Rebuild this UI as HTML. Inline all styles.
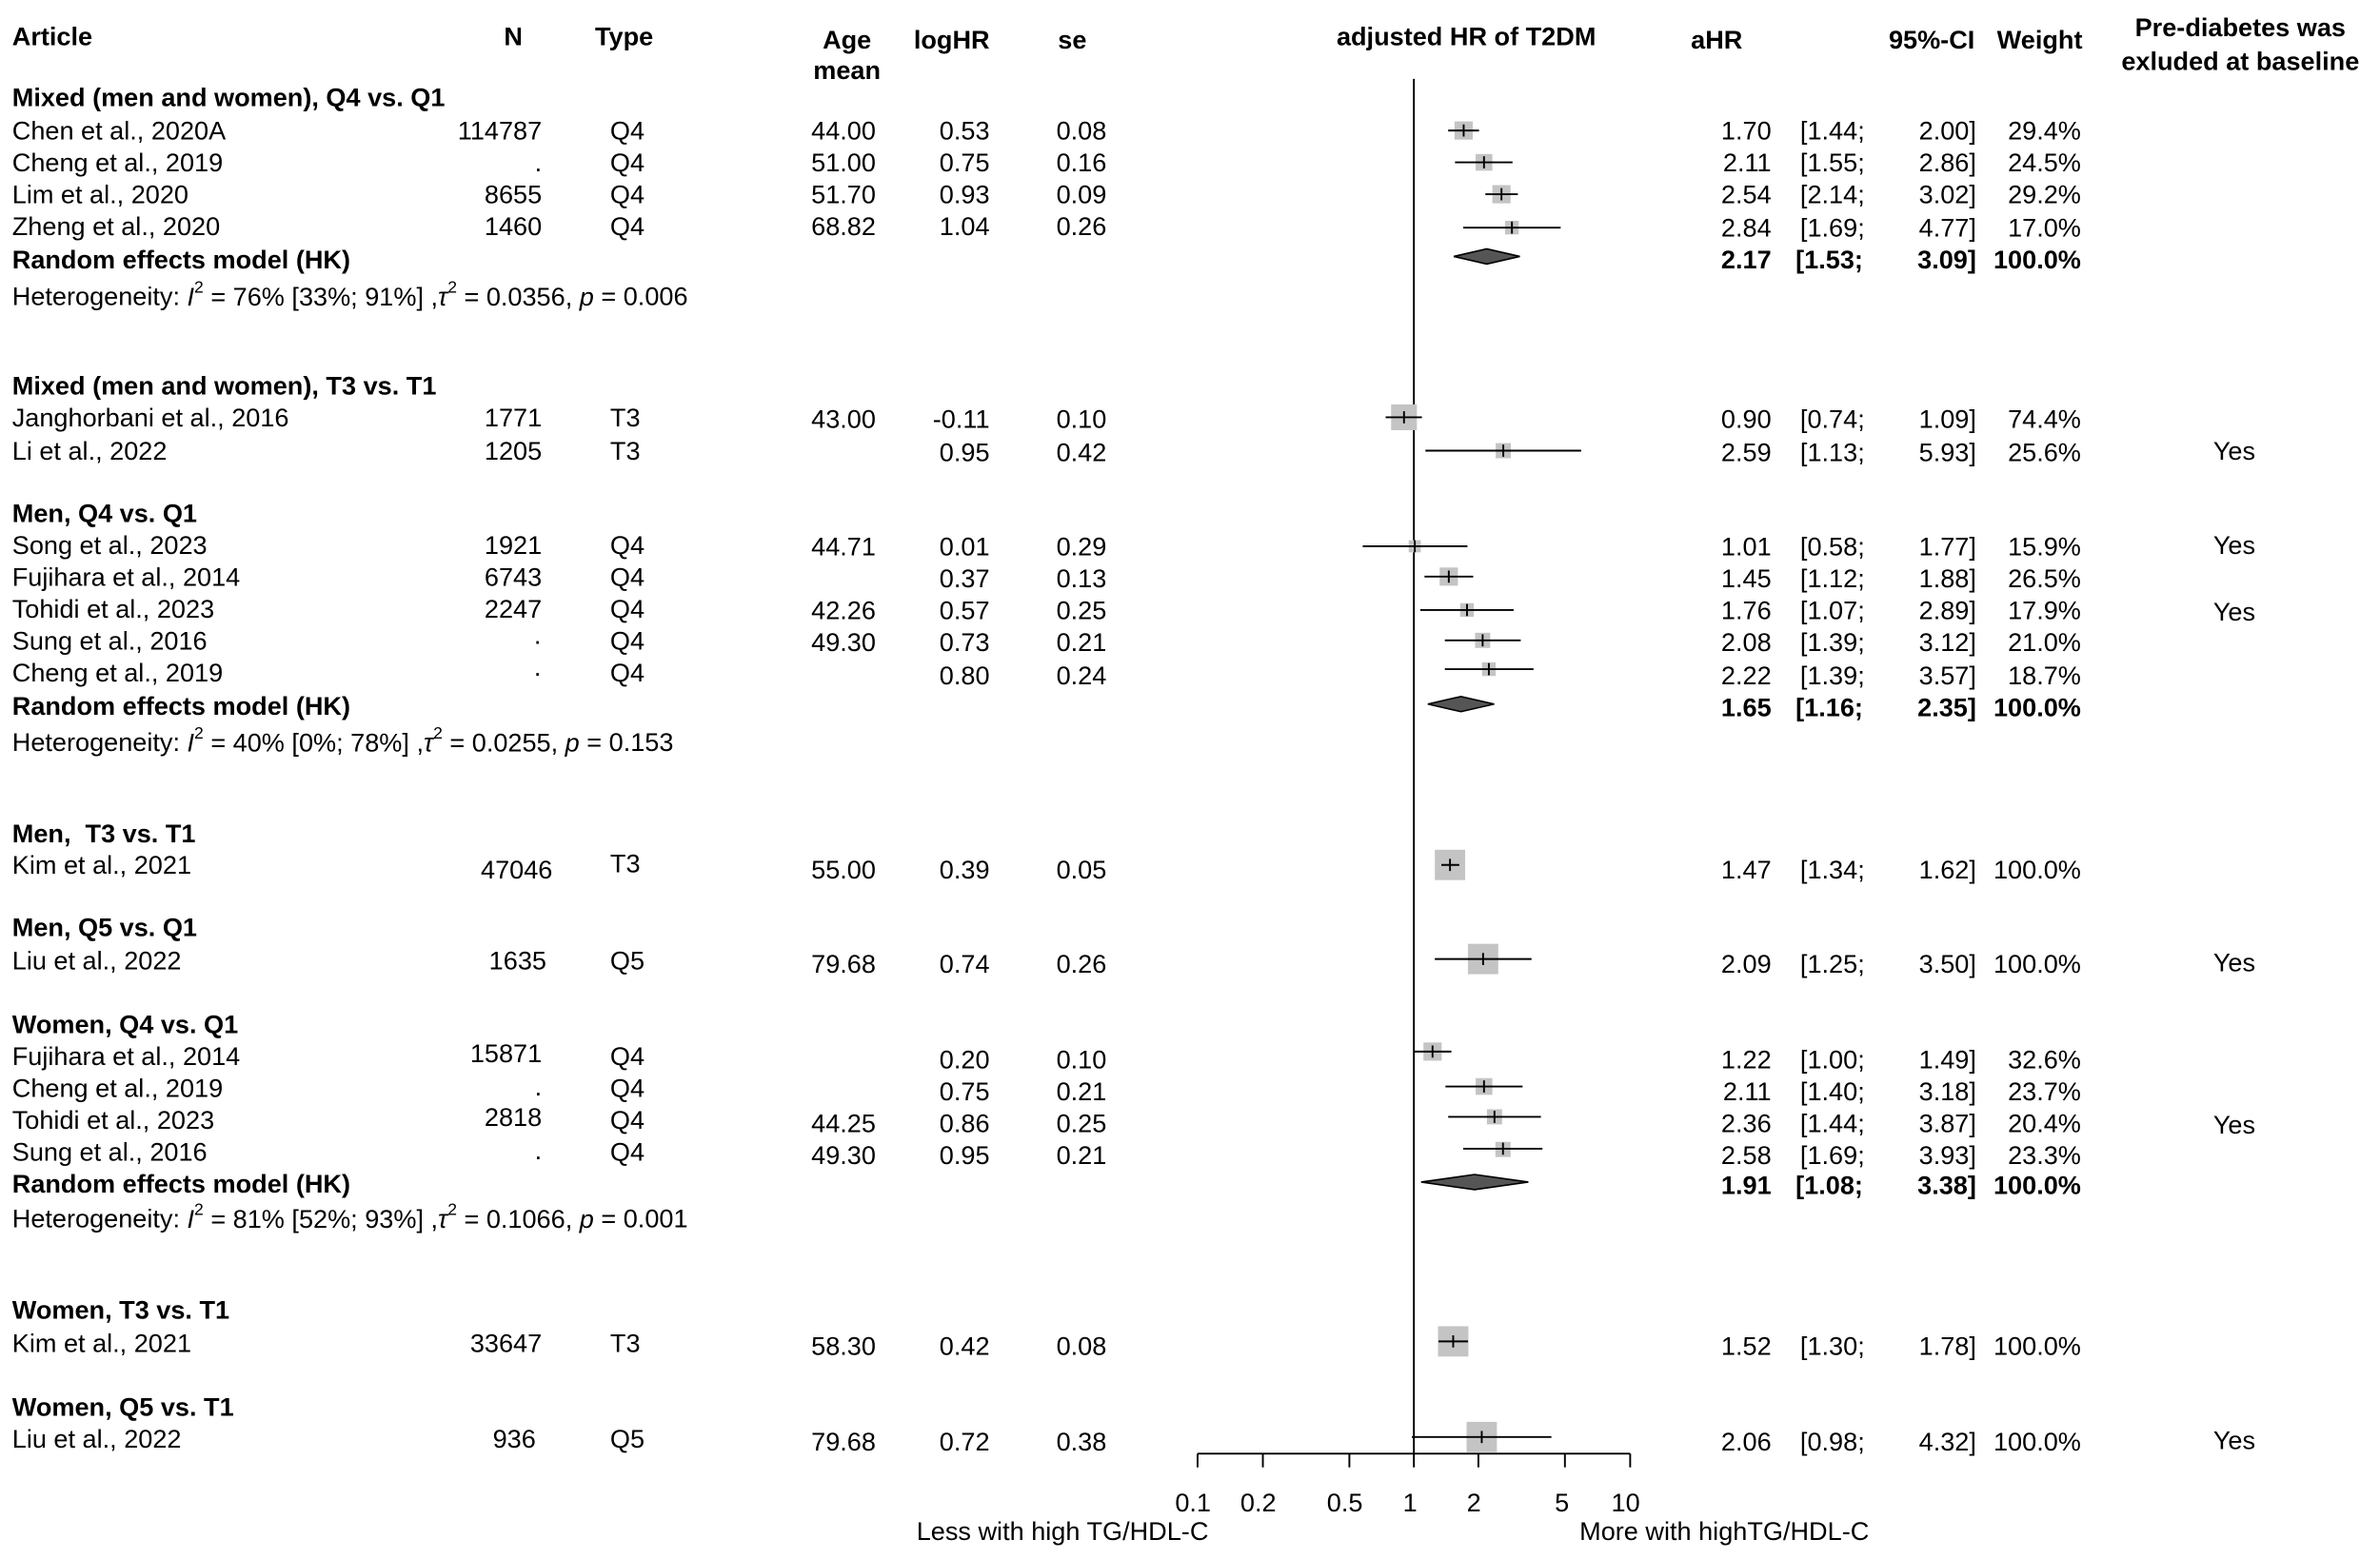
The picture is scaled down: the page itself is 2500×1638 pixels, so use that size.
<!DOCTYPE html>
<html><head><meta charset="utf-8"><style>
html,body{margin:0;padding:0;background:#fff}
svg{display:block}
text{font-family:"Liberation Sans",Arial,sans-serif;font-size:17px;fill:#000}
.b{font-weight:bold}
.r{text-anchor:end}
.m{text-anchor:middle}
</style></head><body>
<svg width="2500" height="1638" viewBox="0 0 1568 1027.4" preserveAspectRatio="none" xmlns="http://www.w3.org/2000/svg">
<g dominant-baseline="central">
<text class="b" x="8" y="24">Article</text>
<text class="b" x="332" y="24">N</text>
<text class="b" x="392" y="24">Type</text>
<text class="b m" x="558" y="26">Age</text>
<text class="b m" x="558" y="46">mean</text>
<text class="b" x="602" y="26">logHR</text>
<text class="b" x="697" y="26">se</text>
<text class="b m" x="966" y="24">adjusted HR of T2DM</text>
<text class="b" x="1114" y="26">aHR</text>
<text class="b r" x="1301" y="26">95%-CI</text>
<text class="b r" x="1372" y="26">Weight</text>
<text class="b m" x="1476" y="18">Pre-diabetes was</text>
<text class="b m" x="1476" y="40">exluded at baseline</text>

<text class="b" x="8" y="64">Mixed (men and women), Q4 vs. Q1</text>
<text x="8" y="86">Chen et al., 2020A</text><text class="r" x="357" y="86">114787</text><text x="402" y="86">Q4</text><text class="r" x="577" y="86">44.00</text><text class="r" x="652" y="86">0.53</text><text class="r" x="729" y="86">0.08</text>
<text x="8" y="107">Cheng et al., 2019</text><text class="r" x="357" y="107">.</text><text x="402" y="107">Q4</text><text class="r" x="577" y="107">51.00</text><text class="r" x="652" y="107">0.75</text><text class="r" x="729" y="107">0.16</text>
<text x="8" y="128">Lim et al., 2020</text><text class="r" x="357" y="128">8655</text><text x="402" y="128">Q4</text><text class="r" x="577" y="128">51.70</text><text class="r" x="652" y="128">0.93</text><text class="r" x="729" y="128">0.09</text>
<text x="8" y="149">Zheng et al., 2020</text><text class="r" x="357" y="149">1460</text><text x="402" y="149">Q4</text><text class="r" x="577" y="149">68.82</text><text class="r" x="652" y="149">1.04</text><text class="r" x="729" y="149">0.26</text>
<text class="b" x="8" y="171">Random effects model (HK)</text>
<text x="8" y="195">Heterogeneity: <tspan font-style="italic">I</tspan><tspan dy="-6" font-size="11">2</tspan><tspan dy="6"> = 76% [33%; 91%] ,</tspan><tspan font-style="italic">τ</tspan><tspan dy="-6" font-size="11">2</tspan><tspan dy="6"> = 0.0356, </tspan><tspan font-style="italic">p</tspan> = 0.006</text>

<text class="b" x="8" y="254">Mixed (men and women), T3 vs. T1</text>
<text x="8" y="275">Janghorbani et al., 2016</text><text class="r" x="357" y="275">1771</text><text x="402" y="275">T3</text><text class="r" x="577" y="276">43.00</text><text class="r" x="652" y="276">-0.11</text><text class="r" x="729" y="276">0.10</text>
<text x="8" y="297">Li et al., 2022</text><text class="r" x="357" y="297">1205</text><text x="402" y="297">T3</text><text class="r" x="652" y="298">0.95</text><text class="r" x="729" y="298">0.42</text>

<text class="b" x="8" y="338">Men, Q4 vs. Q1</text>
<text x="8" y="359">Song et al., 2023</text><text class="r" x="357" y="359">1921</text><text x="402" y="359">Q4</text><text class="r" x="577" y="360">44.71</text><text class="r" x="652" y="360">0.01</text><text class="r" x="729" y="360">0.29</text>
<text x="8" y="380">Fujihara et al., 2014</text><text class="r" x="357" y="380">6743</text><text x="402" y="380">Q4</text><text class="r" x="652" y="381">0.37</text><text class="r" x="729" y="381">0.13</text>
<text x="8" y="401">Tohidi et al., 2023</text><text class="r" x="357" y="401">2247</text><text x="402" y="401">Q4</text><text class="r" x="577" y="402">42.26</text><text class="r" x="652" y="402">0.57</text><text class="r" x="729" y="402">0.25</text>
<text x="8" y="422">Sung et al., 2016</text><text class="r" x="357" y="422">·</text><text x="402" y="422">Q4</text><text class="r" x="577" y="423">49.30</text><text class="r" x="652" y="423">0.73</text><text class="r" x="729" y="423">0.21</text>
<text x="8" y="443">Cheng et al., 2019</text><text class="r" x="357" y="443">·</text><text x="402" y="443">Q4</text><text class="r" x="652" y="445">0.80</text><text class="r" x="729" y="445">0.24</text>
<text class="b" x="8" y="465">Random effects model (HK)</text>
<text x="8" y="489">Heterogeneity: <tspan font-style="italic">I</tspan><tspan dy="-6" font-size="11">2</tspan><tspan dy="6"> = 40% [0%; 78%] ,</tspan><tspan font-style="italic">τ</tspan><tspan dy="-6" font-size="11">2</tspan><tspan dy="6"> = 0.0255, </tspan><tspan font-style="italic">p</tspan> = 0.153</text>

<text class="b" x="8" y="549">Men,&#160; T3 vs. T1</text>
<text x="8" y="570">Kim et al., 2021</text><text class="r" x="364" y="573">47046</text><text x="402" y="569">T3</text><text class="r" x="577" y="573">55.00</text><text class="r" x="652" y="573">0.39</text><text class="r" x="729" y="573">0.05</text>

<text class="b" x="8" y="611">Men, Q5 vs. Q1</text>
<text x="8" y="633">Liu et al., 2022</text><text class="r" x="360" y="633">1635</text><text x="402" y="633">Q5</text><text class="r" x="577" y="635">79.68</text><text class="r" x="652" y="635">0.74</text><text class="r" x="729" y="635">0.26</text>

<text class="b" x="8" y="675">Women, Q4 vs. Q1</text>
<text x="8" y="696">Fujihara et al., 2014</text><text class="r" x="357" y="694">15871</text><text x="402" y="696">Q4</text><text class="r" x="652" y="698">0.20</text><text class="r" x="729" y="698">0.10</text>
<text x="8" y="717">Cheng et al., 2019</text><text class="r" x="357" y="716">.</text><text x="402" y="717">Q4</text><text class="r" x="652" y="719">0.75</text><text class="r" x="729" y="719">0.21</text>
<text x="8" y="738">Tohidi et al., 2023</text><text class="r" x="357" y="736">2818</text><text x="402" y="738">Q4</text><text class="r" x="577" y="740">44.25</text><text class="r" x="652" y="740">0.86</text><text class="r" x="729" y="740">0.25</text>
<text x="8" y="759">Sung et al., 2016</text><text class="r" x="357" y="758">.</text><text x="402" y="759">Q4</text><text class="r" x="577" y="761">49.30</text><text class="r" x="652" y="761">0.95</text><text class="r" x="729" y="761">0.21</text>
<text class="b" x="8" y="780">Random effects model (HK)</text>
<text x="8" y="803">Heterogeneity: <tspan font-style="italic">I</tspan><tspan dy="-6" font-size="11">2</tspan><tspan dy="6"> = 81% [52%; 93%] ,</tspan><tspan font-style="italic">τ</tspan><tspan dy="-6" font-size="11">2</tspan><tspan dy="6"> = 0.1066, </tspan><tspan font-style="italic">p</tspan> = 0.001</text>

<text class="b" x="8" y="863">Women, T3 vs. T1</text>
<text x="8" y="885">Kim et al., 2021</text><text class="r" x="357" y="885">33647</text><text x="402" y="885">T3</text><text class="r" x="577" y="887">58.30</text><text class="r" x="652" y="887">0.42</text><text class="r" x="729" y="887">0.08</text>

<text class="b" x="8" y="927">Women, Q5 vs. T1</text>
<text x="8" y="948">Liu et al., 2022</text><text class="r" x="353" y="948">936</text><text x="402" y="948">Q5</text><text class="r" x="577" y="950">79.68</text><text class="r" x="652" y="950">0.72</text><text class="r" x="729" y="950">0.38</text>

<g>
<text class="r" x="1167" y="86">1.70</text><text x="1186" y="86">[1.44;</text><text class="r" x="1302" y="86">2.00]</text><text class="r" x="1371" y="86">29.4%</text>
<text class="r" x="1167" y="107">2.11</text><text x="1186" y="107">[1.55;</text><text class="r" x="1302" y="107">2.86]</text><text class="r" x="1371" y="107">24.5%</text>
<text class="r" x="1167" y="128">2.54</text><text x="1186" y="128">[2.14;</text><text class="r" x="1302" y="128">3.02]</text><text class="r" x="1371" y="128">29.2%</text>
<text class="r" x="1167" y="150">2.84</text><text x="1186" y="150">[1.69;</text><text class="r" x="1302" y="150">4.77]</text><text class="r" x="1371" y="150">17.0%</text>
<text class="b r" x="1167" y="171">2.17</text><text class="b" x="1183" y="171">[1.53;</text><text class="b r" x="1302" y="171">3.09]</text><text class="b r" x="1371" y="171">100.0%</text>
<text class="r" x="1167" y="276">0.90</text><text x="1186" y="276">[0.74;</text><text class="r" x="1302" y="276">1.09]</text><text class="r" x="1371" y="276">74.4%</text>
<text class="r" x="1167" y="298">2.59</text><text x="1186" y="298">[1.13;</text><text class="r" x="1302" y="298">5.93]</text><text class="r" x="1371" y="298">25.6%</text><text class="m" x="1472" y="297">Yes</text>
<text class="r" x="1167" y="360">1.01</text><text x="1186" y="360">[0.58;</text><text class="r" x="1302" y="360">1.77]</text><text class="r" x="1371" y="360">15.9%</text><text class="m" x="1472" y="359">Yes</text>
<text class="r" x="1167" y="381">1.45</text><text x="1186" y="381">[1.12;</text><text class="r" x="1302" y="381">1.88]</text><text class="r" x="1371" y="381">26.5%</text>
<text class="r" x="1167" y="402">1.76</text><text x="1186" y="402">[1.07;</text><text class="r" x="1302" y="402">2.89]</text><text class="r" x="1371" y="402">17.9%</text><text class="m" x="1472" y="403">Yes</text>
<text class="r" x="1167" y="423">2.08</text><text x="1186" y="423">[1.39;</text><text class="r" x="1302" y="423">3.12]</text><text class="r" x="1371" y="423">21.0%</text>
<text class="r" x="1167" y="445">2.22</text><text x="1186" y="445">[1.39;</text><text class="r" x="1302" y="445">3.57]</text><text class="r" x="1371" y="445">18.7%</text>
<text class="b r" x="1167" y="466">1.65</text><text class="b" x="1183" y="466">[1.16;</text><text class="b r" x="1302" y="466">2.35]</text><text class="b r" x="1371" y="466">100.0%</text>
<text class="r" x="1167" y="573">1.47</text><text x="1186" y="573">[1.34;</text><text class="r" x="1302" y="573">1.62]</text><text class="r" x="1371" y="573">100.0%</text>
<text class="r" x="1167" y="635">2.09</text><text x="1186" y="635">[1.25;</text><text class="r" x="1302" y="635">3.50]</text><text class="r" x="1371" y="635">100.0%</text><text class="m" x="1472" y="634">Yes</text>
<text class="r" x="1167" y="698">1.22</text><text x="1186" y="698">[1.00;</text><text class="r" x="1302" y="698">1.49]</text><text class="r" x="1371" y="698">32.6%</text>
<text class="r" x="1167" y="719">2.11</text><text x="1186" y="719">[1.40;</text><text class="r" x="1302" y="719">3.18]</text><text class="r" x="1371" y="719">23.7%</text>
<text class="r" x="1167" y="740">2.36</text><text x="1186" y="740">[1.44;</text><text class="r" x="1302" y="740">3.87]</text><text class="r" x="1371" y="740">20.4%</text><text class="m" x="1472" y="741">Yes</text>
<text class="r" x="1167" y="761">2.58</text><text x="1186" y="761">[1.69;</text><text class="r" x="1302" y="761">3.93]</text><text class="r" x="1371" y="761">23.3%</text>
<text class="b r" x="1167" y="781">1.91</text><text class="b" x="1183" y="781">[1.08;</text><text class="b r" x="1302" y="781">3.38]</text><text class="b r" x="1371" y="781">100.0%</text>
<text class="r" x="1167" y="887">1.52</text><text x="1186" y="887">[1.30;</text><text class="r" x="1302" y="887">1.78]</text><text class="r" x="1371" y="887">100.0%</text>
<text class="r" x="1167" y="950">2.06</text><text x="1186" y="950">[0.98;</text><text class="r" x="1302" y="950">4.32]</text><text class="r" x="1371" y="950">100.0%</text><text class="m" x="1472" y="949">Yes</text>
</g>

<text class="m" x="786" y="990">0.1</text><text class="m" x="829" y="990">0.2</text><text class="m" x="886" y="990">0.5</text><text class="m" x="929" y="990">1</text><text class="m" x="971" y="990">2</text><text class="m" x="1029" y="990">5</text><text class="m" x="1071" y="990">10</text>
<text class="m" x="700" y="1009">Less with high TG/HDL-C</text>
<text class="m" x="1136" y="1009">More with highTG/HDL-C</text>
</g>

<g stroke="#000" stroke-width="1.2" fill="none">
<line x1="931.5" y1="52" x2="931.5" y2="958"/>
<line x1="789" y1="958" x2="1074" y2="958"/>
<line x1="789" y1="958" x2="789" y2="967"/><line x1="832" y1="958" x2="832" y2="967"/><line x1="889" y1="958" x2="889" y2="967"/><line x1="931.5" y1="958" x2="931.5" y2="967"/><line x1="974" y1="958" x2="974" y2="967"/><line x1="1031" y1="958" x2="1031" y2="967"/><line x1="1074" y1="958" x2="1074" y2="967"/>
</g>
<g fill="#c4c4c4">
<rect x="958.3" y="80" width="12" height="12"/>
<rect x="972.2" y="101.5" width="11" height="11"/>
<rect x="983.2" y="122" width="12" height="12"/>
<rect x="991.6" y="145.5" width="9" height="9"/>
<rect x="916.5" y="266.5" width="17" height="17"/>
<rect x="985.4" y="292" width="10" height="10"/>
<rect x="928.1" y="356" width="8" height="8"/>
<rect x="948.5" y="374" width="12" height="12"/>
<rect x="962" y="397.5" width="9" height="9"/>
<rect x="971.8" y="417" width="10" height="10"/>
<rect x="976.4" y="436.5" width="9" height="9"/>
<rect x="945.3" y="560" width="20" height="20"/>
<rect x="967.1" y="622" width="20" height="20"/>
<rect x="937.8" y="687" width="12" height="12"/>
<rect x="972.2" y="710.5" width="11" height="11"/>
<rect x="979.6" y="731" width="10" height="10"/>
<rect x="985.2" y="752.5" width="10" height="10"/>
<rect x="947.4" y="874" width="20" height="20"/>
<rect x="966.2" y="937" width="20" height="20"/>
</g>
<g stroke="#000" stroke-width="1.2">
<line x1="954.1" y1="86" x2="974.4" y2="86"/><line x1="964.3" y1="82" x2="964.3" y2="90"/>
<line x1="958.6" y1="107" x2="996.5" y2="107"/><line x1="977.7" y1="103" x2="977.7" y2="111"/>
<line x1="978.6" y1="128" x2="1000" y2="128"/><line x1="989.2" y1="124" x2="989.2" y2="132"/>
<line x1="964" y1="150" x2="1028.2" y2="150"/><line x1="996.1" y1="146" x2="996.1" y2="154"/>
<line x1="912.9" y1="275" x2="936.8" y2="275"/><line x1="925" y1="271" x2="925" y2="279"/>
<line x1="939.1" y1="297" x2="1041.7" y2="297"/><line x1="990.4" y1="293" x2="990.4" y2="301"/>
<line x1="897.8" y1="360" x2="966.8" y2="360"/><line x1="932.1" y1="356" x2="932.1" y2="364"/>
<line x1="938.5" y1="380" x2="970.6" y2="380"/><line x1="954.5" y1="376" x2="954.5" y2="384"/>
<line x1="935.7" y1="402" x2="997.2" y2="402"/><line x1="966.5" y1="398" x2="966.5" y2="406"/>
<line x1="951.9" y1="422" x2="1001.9" y2="422"/><line x1="976.8" y1="418" x2="976.8" y2="426"/>
<line x1="951.9" y1="441" x2="1010.3" y2="441"/><line x1="980.9" y1="437" x2="980.9" y2="445"/>
<line x1="949.6" y1="570" x2="961.4" y2="570"/><line x1="955.3" y1="566" x2="955.3" y2="574"/>
<line x1="945.3" y1="632" x2="1009" y2="632"/><line x1="977.1" y1="628" x2="977.1" y2="636"/>
<line x1="931.5" y1="693" x2="956.2" y2="693"/><line x1="943.8" y1="689" x2="943.8" y2="697"/>
<line x1="952.3" y1="716" x2="1003.1" y2="716"/><line x1="977.7" y1="712" x2="977.7" y2="720"/>
<line x1="954.1" y1="736" x2="1015.2" y2="736"/><line x1="984.6" y1="732" x2="984.6" y2="740"/>
<line x1="964" y1="757" x2="1016.2" y2="757"/><line x1="990.2" y1="753" x2="990.2" y2="761"/>
<line x1="947.7" y1="884" x2="967.2" y2="884"/><line x1="957.4" y1="880" x2="957.4" y2="888"/>
<line x1="930.2" y1="947" x2="1022.1" y2="947"/><line x1="976.2" y1="943" x2="976.2" y2="951"/>
</g>
<g fill="#555" stroke="#000" stroke-width="1">
<polygon points="957.8,169 979.5,164 1001.3,169 979.5,174"/>
<polygon points="940.7,464 962.5,459 984.4,464 962.5,469"/>
<polygon points="936.3,779 971.5,774 1006.9,779 971.5,784"/>
</g>
</svg>
</body></html>
